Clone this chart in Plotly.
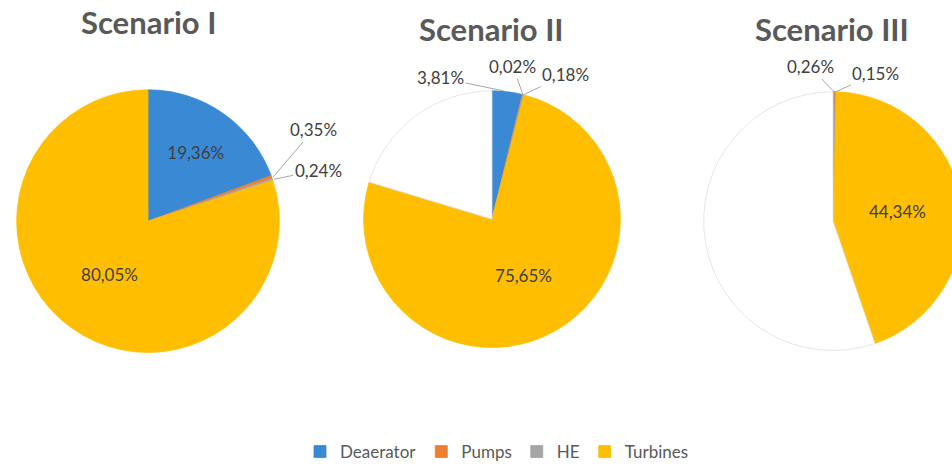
import math
import plotly.graph_objects as go

categories = ["Deaerator", "Pumps", "HE", "Turbines"]
scenario_titles = ["Scenario I", "Scenario II", "Scenario III"]
scenario_1 = [19.36, 0.35, 0.24, 80.05]
scenario_2 = [3.81, 0.02, 0.18, 75.65]
scenario_3 = [0.0, 0.26, 0.15, 44.34]

colors = ["#3A89D4", "#ED7D31", "#A5A5A5", "#FFBE00"]
REST = "rest"

W, H = 966, 470

# pie placement (px): cx, cy, r
geom = [(148, 224, 133), (492, 222, 130), (833, 224, 131)]
# per-slice label style: "in" = inside label, (dx, dy) = callout offset in px, None = no label
label_style = [
    ["in", (40, -47), (44, -9), "in"],
    [(-67, -14), (-10, -28), (42, -20), "in"],
    [None, (-24, -25), (40, -18), "in"],
]


def fmt(v):
    return ("%.2f%%" % v).replace(".", ",")


def dom(cx, cy, r):
    return dict(x=[(cx - r) / W, (cx + r) / W], y=[(H - cy - r) / H, (H - cy + r) / H])


fig = go.Figure()
annotations = []
for i, vals in enumerate([scenario_1, scenario_2, scenario_3]):
    cx, cy, r = geom[i]
    rest = round(100 - sum(vals), 2)
    labels = list(categories)
    values = list(vals)
    cols = list(colors)
    lines = list(colors)
    styles = label_style[i]
    texts = [fmt(v) if s == "in" else "" for v, s in zip(vals, styles)]
    pos = ["inside" if s == "in" else "none" for s in styles]
    if rest > 0.001:
        labels.append(REST)
        values.append(rest)
        cols.append("#FFFFFF")
        lines.append("#E0E0E0")
        texts.append("")
        pos.append("none")
    fig.add_trace(go.Pie(
        labels=labels, values=values, text=texts, textinfo="text",
        textposition=pos, sort=False, direction="clockwise", rotation=0,
        marker=dict(colors=cols, line=dict(color=lines, width=0.8)),
        insidetextorientation="horizontal",
        insidetextfont=dict(color="#404040", size=17),
        domain=dom(cx, cy, r), showlegend=(i == 0), hoverinfo="label+text",
    ))
    total = sum(values)
    cum = 0.0
    for v, s in zip(vals, styles):
        mid = (cum + v / 2) / total * 2 * math.pi
        cum += v
        if isinstance(s, tuple):
            px = cx + r * math.sin(mid)
            py = cy - r * math.cos(mid)
            annotations.append(dict(
                text=fmt(v), x=px / W, y=1 - py / H, xref="paper", yref="paper",
                ax=s[0], ay=s[1], showarrow=True, arrowhead=0, arrowwidth=1,
                arrowcolor="#A6A6A6", standoff=0,
                font=dict(size=17, color="#404040"),
            ))

title_x = [148, 492, 832]
title_y = [22, 29, 29]
for t, x, y in zip(scenario_titles, title_x, title_y):
    annotations.append(dict(text="<b>%s</b>" % t, x=x / W, y=1 - y / H, xref="paper", yref="paper",
                            showarrow=False, xanchor="center", yanchor="middle",
                            font=dict(size=31, color="#595959", family="Lato")))

fig.update_layout(
    width=W, height=H, margin=dict(l=0, r=0, t=0, b=0),
    paper_bgcolor="white", plot_bgcolor="white",
    font=dict(family="Lato", color="#595959"),
    separators=",.",
    annotations=annotations,
    legend=dict(orientation="h", x=497 / W, xanchor="center", y=1 - 458 / H, yanchor="middle",
                font=dict(size=17, color="#595959"), itemwidth=30, traceorder="normal"),
)

fig.write_html("out.html", config={"displayModeBar": False},
               post_script="document.body.style.margin='0';document.body.style.overflow='hidden';")
